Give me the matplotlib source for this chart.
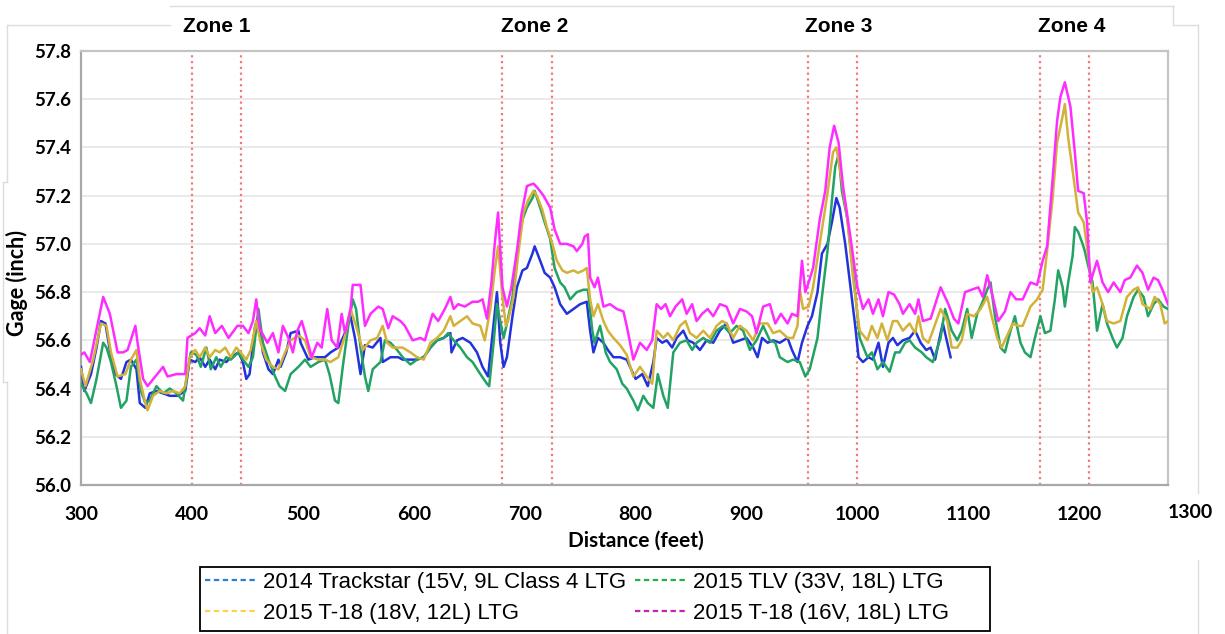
import matplotlib
matplotlib.use("Agg")
import matplotlib.pyplot as plt
from matplotlib.lines import Line2D
from matplotlib.patches import Rectangle

# ---- data: track gage vs. distance -------------------------------------
trackstar_x = [300, 303, 309, 314, 318, 322, 326, 331, 336, 341, 345, 350, 353, 358, 362, 368, 374, 380, 387, 394,
               398, 403, 407, 412, 416, 421, 425, 431, 435, 442, 446, 449, 452, 457, 460, 464, 469, 473, 478, 480,
               485, 489, 496, 498, 505, 511, 520, 525, 532, 538, 543, 547, 552, 556, 563, 570, 572, 579, 586, 590,
               597, 603, 609, 615, 621, 627, 633, 634, 639, 644, 651, 657, 662, 667, 672, 675, 678, 681, 684, 689,
               693, 698, 702, 707, 709, 714, 718, 723, 727, 732, 738, 744, 750, 756, 759, 762, 766, 771, 775, 780,
               786, 792, 800, 806, 811, 816, 819, 824, 828, 833, 837, 843, 847, 852, 858, 864, 870, 876, 882, 888,
               894, 900, 906, 910, 914, 919, 924, 930, 937, 941, 946, 950, 955, 959, 964, 968, 973, 977, 981, 984,
               989, 993, 998, 1001, 1005, 1010, 1014, 1019, 1023, 1028, 1032, 1036, 1041, 1047, 1052, 1057, 1062,
               1066, 1070, 1075, 1077, 1081, 1084]
trackstar_y = [56.49, 56.39, 56.46, 56.57, 56.68, 56.67, 56.56, 56.46, 56.44, 56.51, 56.52, 56.48, 56.34, 56.32,
               56.38, 56.39, 56.38, 56.37, 56.37, 56.39, 56.52, 56.51, 56.53, 56.49, 56.52, 56.48, 56.52, 56.51,
               56.53, 56.55, 56.51, 56.44, 56.46, 56.66, 56.70, 56.55, 56.48, 56.46, 56.52, 56.49, 56.55, 56.63,
               56.64, 56.59, 56.52, 56.53, 56.53, 56.55, 56.57, 56.63, 56.70, 56.61, 56.46, 56.58, 56.57, 56.61,
               56.51, 56.53, 56.53, 56.52, 56.52, 56.52, 56.53, 56.57, 56.60, 56.61, 56.63, 56.55, 56.60, 56.61,
               56.59, 56.55, 56.49, 56.45, 56.67, 56.80, 56.59, 56.49, 56.53, 56.70, 56.82, 56.89, 56.90, 56.96,
               56.99, 56.93, 56.88, 56.86, 56.82, 56.75, 56.71, 56.73, 56.75, 56.76, 56.64, 56.55, 56.61, 56.59,
               56.56, 56.53, 56.53, 56.52, 56.44, 56.46, 56.41, 56.51, 56.61, 56.59, 56.60, 56.57, 56.61, 56.64,
               56.60, 56.59, 56.56, 56.60, 56.59, 56.64, 56.67, 56.59, 56.60, 56.61, 56.57, 56.53, 56.61, 56.59,
               56.60, 56.59, 56.61, 56.56, 56.51, 56.59, 56.66, 56.70, 56.80, 56.96, 57.00, 57.09, 57.19, 57.15,
               57.00, 56.85, 56.66, 56.53, 56.51, 56.53, 56.52, 56.59, 56.49, 56.59, 56.61, 56.58, 56.60, 56.61,
               56.64, 56.59, 56.56, 56.57, 56.52, 56.63, 56.67, 56.59, 56.53]

tlv_x = [300, 305, 309, 314, 320, 323, 327, 332, 336, 341, 345, 350, 354, 358, 362, 368, 374, 380, 386, 392, 395,
         399, 404, 408, 413, 417, 422, 426, 431, 435, 442, 446, 451, 455, 460, 464, 469, 475, 479, 484, 489, 496,
         502, 507, 514, 520, 524, 529, 532, 536, 541, 545, 548, 552, 556, 559, 563, 570, 574, 579, 585, 590, 597,
         603, 609, 615, 621, 627, 631, 636, 642, 648, 653, 660, 666, 668, 672, 675, 678, 681, 684, 689, 693, 698,
         702, 707, 709, 714, 718, 723, 727, 732, 736, 741, 747, 753, 757, 761, 763, 768, 773, 777, 783, 788, 792,
         798, 802, 807, 811, 816, 820, 825, 829, 834, 840, 846, 851, 855, 861, 867, 873, 879, 885, 891, 897, 903,
         909, 915, 921, 926, 930, 937, 942, 948, 953, 957, 964, 968, 973, 977, 980, 983, 986, 991, 996, 1002, 1009,
         1013, 1018, 1023, 1029, 1034, 1038, 1043, 1047, 1052, 1058, 1062, 1068, 1075, 1079, 1085, 1090, 1094,
         1099, 1103, 1108, 1112, 1117, 1120, 1124, 1129, 1133, 1138, 1142, 1147, 1151, 1156, 1160, 1165, 1169,
         1174, 1178, 1181, 1185, 1187, 1190, 1194, 1196, 1199, 1203, 1205, 1208, 1212, 1216, 1221, 1225, 1230,
         1234, 1239, 1243, 1249, 1253, 1258, 1262, 1267, 1271, 1276, 1280]
tlv_y = [56.42, 56.38, 56.34, 56.44, 56.59, 56.57, 56.51, 56.41, 56.32, 56.35, 56.49, 56.52, 56.39, 56.34, 56.35,
         56.41, 56.38, 56.40, 56.38, 56.35, 56.44, 56.55, 56.54, 56.49, 56.57, 56.48, 56.53, 56.49, 56.53, 56.52,
         56.55, 56.52, 56.49, 56.53, 56.73, 56.59, 56.52, 56.45, 56.41, 56.39, 56.46, 56.49, 56.52, 56.49, 56.51,
         56.52, 56.46, 56.35, 56.34, 56.49, 56.66, 56.77, 56.73, 56.57, 56.45, 56.39, 56.48, 56.51, 56.60, 56.59,
         56.56, 56.53, 56.50, 56.52, 56.53, 56.57, 56.60, 56.61, 56.63, 56.60, 56.57, 56.53, 56.51, 56.46, 56.42,
         56.41, 56.59, 56.75, 56.68, 56.61, 56.67, 56.78, 56.96, 57.10, 57.15, 57.19, 57.22, 57.15, 57.09, 57.02,
         56.90, 56.84, 56.82, 56.77, 56.80, 56.81, 56.81, 56.64, 56.59, 56.66, 56.55, 56.51, 56.48, 56.42, 56.40,
         56.35, 56.31, 56.37, 56.34, 56.32, 56.46, 56.37, 56.32, 56.55, 56.59, 56.60, 56.56, 56.59, 56.61, 56.59,
         56.64, 56.66, 56.63, 56.66, 56.64, 56.56, 56.60, 56.66, 56.60, 56.59, 56.53, 56.51, 56.52, 56.51, 56.45,
         56.48, 56.61, 56.78, 56.97, 57.18, 57.32, 57.37, 57.22, 57.10, 56.89, 56.61, 56.53, 56.55, 56.48, 56.51,
         56.47, 56.55, 56.55, 56.59, 56.60, 56.57, 56.55, 56.53, 56.51, 56.61, 56.73, 56.64, 56.60, 56.64, 56.73,
         56.61, 56.71, 56.75, 56.81, 56.84, 56.70, 56.57, 56.55, 56.64, 56.70, 56.59, 56.55, 56.53, 56.61, 56.70,
         56.63, 56.64, 56.77, 56.89, 56.82, 56.74, 56.84, 56.95, 57.07, 57.05, 57.00, 56.97, 56.91, 56.84, 56.64,
         56.75, 56.67, 56.61, 56.57, 56.61, 56.70, 56.78, 56.81, 56.78, 56.70, 56.75, 56.77, 56.74, 56.73]

t18_12l_x = [300, 304, 311, 318, 323, 327, 333, 340, 345, 350, 353, 358, 360, 365, 371, 377, 383, 389, 394, 398,
             403, 407, 412, 416, 421, 425, 430, 435, 440, 444, 449, 453, 458, 462, 467, 473, 478, 484, 489, 496,
             502, 507, 514, 520, 525, 532, 538, 543, 548, 554, 561, 567, 572, 576, 581, 590, 597, 603, 609, 615,
             621, 627, 633, 636, 642, 648, 653, 660, 664, 669, 673, 676, 680, 683, 685, 690, 694, 699, 703, 708,
             711, 716, 720, 725, 729, 734, 738, 744, 748, 753, 756, 759, 762, 766, 771, 775, 780, 786, 792, 798,
             804, 810, 815, 819, 825, 829, 834, 840, 845, 849, 855, 861, 867, 873, 878, 882, 888, 894, 900, 906,
             912, 919, 924, 930, 937, 942, 946, 948, 951, 956, 960, 966, 973, 978, 981, 984, 991, 996, 1002, 1009,
             1013, 1018, 1022, 1027, 1032, 1036, 1041, 1047, 1052, 1055, 1059, 1064, 1068, 1075, 1081, 1085, 1090,
             1094, 1099, 1105, 1111, 1117, 1121, 1126, 1130, 1136, 1140, 1145, 1149, 1156, 1162, 1167, 1171, 1176,
             1180, 1185, 1187, 1190, 1195, 1199, 1204, 1208, 1212, 1216, 1221, 1225, 1231, 1237, 1243, 1249, 1253,
             1257, 1264, 1268, 1273, 1277, 1280]
t18_12l_y = [56.48, 56.41, 56.52, 56.67, 56.66, 56.55, 56.45, 56.46, 56.52, 56.56, 56.44, 56.34, 56.31, 56.37,
             56.39, 56.38, 56.39, 56.38, 56.41, 56.53, 56.56, 56.53, 56.57, 56.53, 56.56, 56.55, 56.57, 56.53,
             56.57, 56.55, 56.52, 56.56, 56.68, 56.59, 56.52, 56.49, 56.48, 56.55, 56.60, 56.62, 56.60, 56.53,
             56.52, 56.52, 56.51, 56.53, 56.62, 56.73, 56.66, 56.56, 56.60, 56.61, 56.66, 56.59, 56.57, 56.57,
             56.55, 56.53, 56.52, 56.59, 56.61, 56.64, 56.70, 56.66, 56.68, 56.70, 56.67, 56.66, 56.60, 56.73,
             56.89, 56.99, 56.78, 56.66, 56.68, 56.78, 56.95, 57.13, 57.18, 57.22, 57.20, 57.14, 57.07, 57.00,
             56.93, 56.89, 56.88, 56.89, 56.88, 56.89, 56.90, 56.77, 56.70, 56.75, 56.68, 56.64, 56.61, 56.58,
             56.54, 56.45, 56.49, 56.45, 56.42, 56.64, 56.61, 56.63, 56.60, 56.66, 56.68, 56.63, 56.61, 56.64,
             56.61, 56.66, 56.68, 56.67, 56.61, 56.66, 56.64, 56.60, 56.67, 56.67, 56.63, 56.64, 56.61, 56.61,
             56.66, 56.81, 56.73, 56.74, 56.82, 57.00, 57.21, 57.38, 57.40, 57.32, 57.10, 56.86, 56.64, 56.60,
             56.66, 56.61, 56.67, 56.60, 56.68, 56.68, 56.64, 56.67, 56.63, 56.70, 56.61, 56.59, 56.64, 56.73,
             56.68, 56.57, 56.57, 56.60, 56.71, 56.70, 56.73, 56.78, 56.70, 56.61, 56.57, 56.63, 56.67, 56.66,
             56.66, 56.74, 56.77, 56.81, 56.97, 57.19, 57.42, 57.53, 57.58, 57.44, 57.27, 57.13, 57.09, 56.95,
             56.80, 56.82, 56.75, 56.68, 56.67, 56.68, 56.78, 56.81, 56.82, 56.75, 56.73, 56.78, 56.75, 56.67,
             56.68]

t18_18l_x = [300, 303, 308, 320, 326, 333, 338, 342, 349, 351, 356, 360, 367, 374, 378, 386, 394, 396, 403, 407,
             412, 416, 421, 427, 433, 441, 446, 451, 455, 458, 461, 468, 473, 478, 482, 487, 491, 495, 499, 504,
             508, 513, 517, 522, 526, 531, 535, 538, 543, 545, 552, 556, 561, 568, 572, 577, 581, 588, 592, 599,
             606, 610, 617, 622, 628, 633, 636, 640, 646, 653, 658, 662, 666, 670, 673, 676, 680, 684, 688, 693,
             697, 702, 708, 712, 717, 723, 727, 732, 738, 744, 747, 752, 754, 757, 759, 763, 766, 771, 777, 783,
             789, 792, 798, 804, 810, 815, 819, 823, 827, 831, 836, 842, 846, 851, 855, 860, 865, 870, 876, 882,
             888, 894, 900, 905, 909, 915, 921, 926, 931, 937, 941, 946, 950, 953, 956, 960, 966, 971, 975, 979,
             983, 987, 993, 1000, 1005, 1010, 1014, 1019, 1023, 1028, 1033, 1038, 1041, 1047, 1052, 1055, 1059,
             1066, 1075, 1082, 1087, 1091, 1097, 1103, 1109, 1113, 1117, 1121, 1127, 1133, 1138, 1143, 1149, 1156,
             1162, 1167, 1171, 1176, 1180, 1183, 1187, 1192, 1196, 1199, 1204, 1207, 1210, 1216, 1221, 1226, 1231,
             1237, 1241, 1246, 1252, 1257, 1262, 1267, 1271, 1275, 1280]
t18_18l_y = [56.54, 56.55, 56.51, 56.78, 56.71, 56.55, 56.55, 56.56, 56.66, 56.59, 56.44, 56.41, 56.45, 56.49,
             56.45, 56.46, 56.46, 56.61, 56.63, 56.65, 56.62, 56.70, 56.63, 56.66, 56.61, 56.66, 56.66, 56.63,
             56.68, 56.77, 56.65, 56.59, 56.63, 56.55, 56.66, 56.61, 56.55, 56.64, 56.68, 56.60, 56.53, 56.59,
             56.57, 56.73, 56.60, 56.57, 56.71, 56.63, 56.73, 56.83, 56.83, 56.66, 56.71, 56.74, 56.73, 56.65,
             56.70, 56.68, 56.66, 56.60, 56.61, 56.60, 56.71, 56.68, 56.73, 56.78, 56.73, 56.75, 56.74, 56.76,
             56.76, 56.77, 56.69, 56.84, 57.00, 57.13, 56.82, 56.74, 56.82, 56.97, 57.12, 57.24, 57.25, 57.23,
             57.20, 57.15, 57.06, 57.00, 57.00, 56.99, 56.97, 57.00, 57.03, 57.04, 56.86, 56.82, 56.86, 56.74,
             56.75, 56.73, 56.72, 56.66, 56.52, 56.59, 56.56, 56.60, 56.75, 56.73, 56.75, 56.70, 56.74, 56.77,
             56.71, 56.75, 56.68, 56.71, 56.73, 56.70, 56.75, 56.74, 56.67, 56.73, 56.72, 56.70, 56.63, 56.74,
             56.75, 56.67, 56.71, 56.67, 56.71, 56.70, 56.93, 56.80, 56.84, 56.90, 57.10, 57.22, 57.40, 57.49,
             57.42, 57.24, 57.05, 56.82, 56.73, 56.77, 56.71, 56.77, 56.70, 56.80, 56.79, 56.75, 56.71, 56.75,
             56.71, 56.77, 56.68, 56.69, 56.82, 56.75, 56.69, 56.67, 56.80, 56.81, 56.82, 56.78, 56.87, 56.80,
             56.68, 56.72, 56.80, 56.77, 56.77, 56.84, 56.83, 56.93, 56.99, 57.27, 57.51, 57.61, 57.67, 57.57,
             57.38, 57.22, 57.21, 57.09, 56.84, 56.93, 56.84, 56.80, 56.84, 56.80, 56.85, 56.86, 56.91, 56.88,
             56.81, 56.86, 56.85, 56.81, 56.75]

series_labels = ["2014 Trackstar (15V, 9L Class 4 LTG", "2015 T-18 (18V, 12L) LTG",
                 "2015 TLV (33V, 18L) LTG", "2015 T-18 (16V, 18L) LTG"]

zone_names = ["Zone 1", "Zone 2", "Zone 3", "Zone 4"]
zone_bounds = [(400, 444), (680, 725), (955, 1000), (1165, 1209)]
zone_label_x = [422, 709, 983, 1193]

x_ticks = [300, 400, 500, 600, 700, 800, 900, 1000, 1100, 1200, 1300]
y_ticks = [56.0, 56.2, 56.4, 56.6, 56.8, 57.0, 57.2, 57.4, 57.6, 57.8]

# ---- styling ------------------------------------------------------------
line_colors = {"trackstar": "#2233dd", "tlv": "#22a264", "t18_12l": "#d2b238", "t18_18l": "#ff2cff"}
legend_colors = ["#2a7fd4", "#ffd24a", "#20b04e", "#c424b4"]
BOLD = ["Lato", "DejaVu Sans"]

W, H = 1225, 634
fig = plt.figure(figsize=(W / 100, H / 100), dpi=100)
fig.patch.set_facecolor("white")

ax_l, ax_r, ax_t, ax_b = 81, 1168, 51, 485
ax = fig.add_axes([ax_l / W, 1 - ax_b / H, (ax_r - ax_l) / W, (ax_b - ax_t) / H])

ax.set_xlim(300, 1280)
ax.set_ylim(56.0, 57.8)

# horizontal gridlines
for v in y_ticks[1:-1]:
    ax.axhline(v, color="#e6e6e6", lw=1.2, zorder=0)

# zone boundaries
for lo, hi in zone_bounds:
    for xv in (lo, hi):
        ax.axvline(xv, color="#ee7a7a", lw=1.6, ls=(0, (1, 1.6)), zorder=1)

# series
lw = 1.8
ax.plot(trackstar_x, trackstar_y, color=line_colors["trackstar"], lw=lw, zorder=3)
ax.plot(tlv_x, tlv_y, color=line_colors["tlv"], lw=lw, zorder=3)
ax.plot(t18_12l_x, t18_12l_y, color=line_colors["t18_12l"], lw=lw, zorder=3)
ax.plot(t18_18l_x, t18_18l_y, color=line_colors["t18_18l"], lw=lw, zorder=3)

# frame
for side in ("left", "bottom"):
    ax.spines[side].set_color("#a8a8a8")
    ax.spines[side].set_linewidth(1.6)
for side in ("top", "right"):
    ax.spines[side].set_color("#c4c4c4")
    ax.spines[side].set_linewidth(1.6)

# ticks
ax.set_yticks(y_ticks)
ax.set_yticklabels([f"{v:.1f}" for v in y_ticks], fontfamily=BOLD, fontweight="bold", fontsize=13.5)
shown_x = [t for t in x_ticks if t <= 1280]
ax.set_xticks(shown_x)
ax.set_xticklabels([str(t) for t in shown_x], fontfamily=BOLD, fontweight="bold", fontsize=14)
ax.tick_params(axis="both", length=0)
ax.tick_params(axis="x", pad=15)
ax.tick_params(axis="y", pad=7)
xt = ax.get_xaxis_transform()
for t in x_ticks:
    if t > 1280:
        ax.text(t, -28 / (ax_b - ax_t), str(t), transform=xt, ha="center", va="center",
                fontfamily=BOLD, fontweight="bold", fontsize=14, clip_on=False)

# zone titles
for name, zx in zip(zone_names, zone_label_x):
    ax.text(zx, 1 + 24 / (ax_b - ax_t), name, transform=xt, ha="center", va="center",
            fontfamily=["Liberation Sans", "DejaVu Sans"], fontweight="bold", fontsize=15, clip_on=False)

# axis titles
fig.text(17 / W, 1 - 283 / H, "Gage (inch)", rotation=90, ha="center", va="center",
         fontfamily=BOLD, fontweight="bold", fontsize=15.5)
fig.text(636 / W, 1 - 541 / H, "Distance (feet)", ha="center", va="center",
         fontfamily=BOLD, fontweight="bold", fontsize=15)

# legend (frame drawn separately so the columns sit close together)
handles = [Line2D([], [], color=c, lw=1.6, ls=(0, (2.4, 1.6))) for c in legend_colors]
leg = fig.legend(handles, series_labels, ncol=2, loc="upper left",
                 bbox_to_anchor=(203 / W, 1 - 570 / H),
                 prop={"family": ["Liberation Sans", "DejaVu Sans"], "size": 16},
                 frameon=False, handlelength=2.25, handletextpad=0.35,
                 columnspacing=0.4, labelspacing=0.45, borderpad=0.1, borderaxespad=0)
fig.add_artist(Rectangle((200 / W, 1 - 631 / H), 790 / W, 64 / H, transform=fig.transFigure,
                         fill=False, edgecolor="black", lw=1.3))

# faint panel outlines around the chart
edge = dict(color="#dcdcdc", lw=1.0, transform=None, zorder=0)
def seg(xs, ys):
    fig.add_artist(Line2D(xs, [H - y for y in ys], **edge))
seg([170, 1173], [6, 6])
seg([1173, 1173], [6, 25])
seg([1173, 1198], [25, 25])
seg([1198, 1198], [25, 493])
seg([1198, 1198], [560, 634])
seg([7, 170], [25, 25])
seg([7, 7], [25, 182])
seg([3, 7], [182, 182])
seg([3, 3], [182, 382])
seg([3, 7], [382, 382])
seg([7, 7], [382, 634])

fig.savefig("out.png", dpi=100, facecolor="white")
